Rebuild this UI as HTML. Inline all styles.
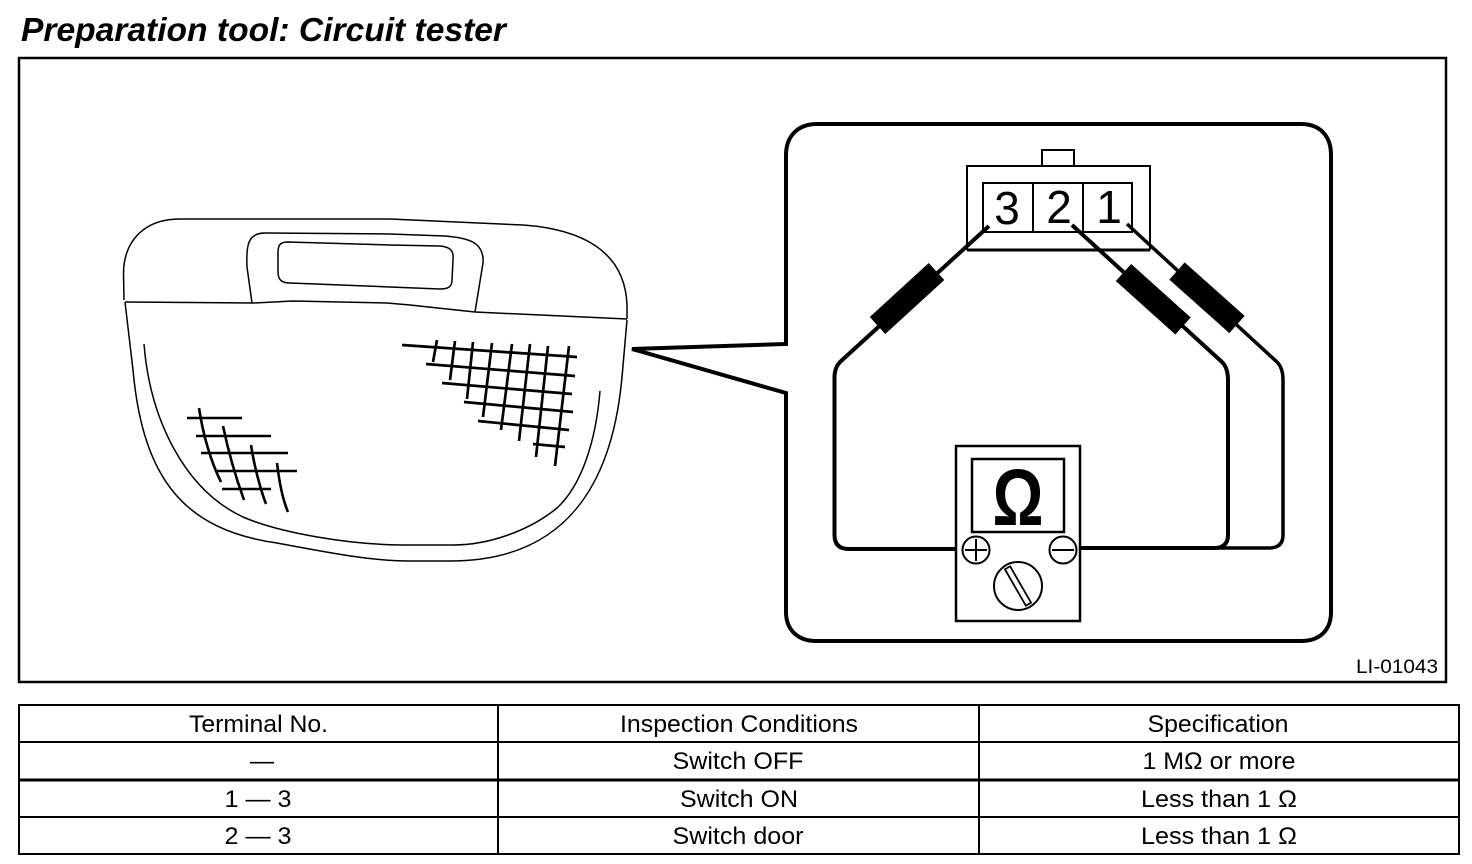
<!DOCTYPE html>
<html>
<head>
<meta charset="utf-8">
<style>
html,body{margin:0;padding:0;background:#fff;width:1472px;height:864px;overflow:hidden}
svg{display:block}
text{font-family:"Liberation Sans",sans-serif;fill:#000}
.t{font-size:24px;text-anchor:middle}
</style>
</head>
<body>
<svg width="1472" height="864" viewBox="0 0 1472 864" xmlns="http://www.w3.org/2000/svg">
<rect width="1472" height="864" fill="#fff"/>
<text x="21" y="41" font-size="33" font-weight="bold" font-style="italic" textLength="485" lengthAdjust="spacingAndGlyphs">Preparation tool: Circuit tester</text>
<rect x="19" y="58" width="1427" height="624" fill="none" stroke="#000" stroke-width="2.5"/>

<!-- housing -->
<g fill="none" stroke="#000" stroke-width="1.5" stroke-linejoin="round">
<path d="M124 300L123.500 273C124 240 145 219 180 219L390 219L523 225C580 229 625 250 627 305L627 319"/>
<path d="M125 302L253 303L293 301L387 303L410 305L475 312L627 319"/>
<path d="M125 302L133 370C143 480 185 530 277 543C320 551 370 561 408 561L450 561C545 561 610 510 622 377L627 320"/>
<path d="M144 344C150 420 185 490 243 517C280 533 350 545 405 545L453 545C490 545 530 530 557 508C582 485 596 440 600 391"/>
<path d="M252 303L247 267C246 245 248 233 265 233L390 234L445 236Q470 238 477 245Q484 252 483 263L475 312"/>
<path d="M278 253C278 245 280 242 288 242L390 245L440 246C450 247 454 250 453 260L452 280C452 287 448 289 440 289L390 287L290 283C282 283 278 280 278 272Z"/>
</g>

<!-- left grid -->
<g fill="none" stroke="#000" stroke-width="2.6">
<path d="M187 418H242M196 436H271M201 453H288M215 471H297M222 489H271"/>
<path d="M199 408C203 435 211 462 221 482M223 426C228 450 236 478 244 500M251 445C254 465 260 488 266 504M277 463C279 480 282 498 288 512"/>
</g>
<!-- right grid -->
<g fill="none" stroke="#000" stroke-width="2.7">
<path d="M402 345L577 357M426 364L575 376M442 383L572 394M464 402L573 412M478 421L569 430M533 444L565 447"/>
<path d="M437 340L433 362M455 341L450 380M473 342L467 399M492 343L483 417M512 344L501 430M530 344L519 441M548 346L536 457M569 346L555 466"/>
</g>

<!-- callout -->
<path d="M786 344V155C786 136 798 124 817 124H1301C1320 124 1331 136 1331 155V612C1331 630 1320 641 1301 641H816C798 641 786 630 786 612V393L632 349Z" fill="#fff" stroke="#000" stroke-width="4" stroke-linejoin="miter"/>

<!-- connector -->
<g fill="none" stroke="#000" stroke-width="2">
<path d="M1042 166V150H1074V166"/>
<path d="M967 250V166H1150V250"/>
<path d="M967 250H1150" stroke-width="3"/>
<rect x="983" y="183" width="149" height="49"/>
<path d="M1033 183V233M1083 183V232"/>
</g>
<text x="1007" y="224" font-size="46" text-anchor="middle">3</text>
<text x="1059" y="223" font-size="46" text-anchor="middle">2</text>
<text x="1109" y="223" font-size="46" text-anchor="middle">1</text>

<!-- wires -->
<g fill="none" stroke="#000" stroke-linejoin="round">
<path d="M989 226L840 362Q834.500 368 834.500 377V535Q834.500 549 849 549H962" stroke-width="4"/>
<path d="M1072 225L1222 362Q1228 368 1228 380V535Q1228 548 1214 548H1080" stroke-width="4"/>
<path d="M1127 224L1277 362Q1283 368 1283 380V535Q1283 548 1269 548H1214" stroke-width="3.500"/>
</g>
<g fill="none" stroke="#000" stroke-width="23">
<path d="M936.500 271.500L877.500 325.500"/>
<path d="M1123.500 272.500L1183 326"/>
<path d="M1177 271L1237 324.500"/>
</g>

<!-- meter -->
<rect x="956" y="446" width="124" height="175" fill="#fff" stroke="#000" stroke-width="2.5"/>
<rect x="972" y="459" width="92" height="73" fill="#fff" stroke="#000" stroke-width="2.5"/>
<text x="1018" y="525" font-size="80" font-weight="bold" text-anchor="middle" textLength="51" lengthAdjust="spacingAndGlyphs">Ω</text>
<circle cx="976" cy="550" r="13.500" fill="#fff" stroke="#000" stroke-width="2"/>
<path d="M965 550H987M976 539V561" stroke="#000" stroke-width="2"/>
<circle cx="1063" cy="550" r="13.500" fill="#fff" stroke="#000" stroke-width="2"/>
<path d="M1052 550H1074" stroke="#000" stroke-width="2"/>
<circle cx="1018" cy="586" r="24" fill="#fff" stroke="#000" stroke-width="2"/>
<rect x="1015" y="565" width="6" height="42" fill="#fff" stroke="#000" stroke-width="1.800" transform="rotate(-30 1018 586)"/>

<text x="1356" y="673" font-size="19" textLength="82" lengthAdjust="spacingAndGlyphs">LI-01043</text>

<!-- table -->
<g fill="none" stroke="#000">
<rect x="19" y="705" width="1440" height="149" stroke-width="2"/>
<path d="M19 742H1459M19 817H1459M498 705V854M979 705V854" stroke-width="2"/>
<path d="M19 780H1459" stroke-width="3"/>
</g>
<text class="t" x="258.500" y="732" textLength="139" lengthAdjust="spacingAndGlyphs">Terminal No.</text>
<text class="t" x="739" y="732" textLength="238" lengthAdjust="spacingAndGlyphs">Inspection Conditions</text>
<text class="t" x="1218" y="732" textLength="141" lengthAdjust="spacingAndGlyphs">Specification</text>
<text class="t" x="262" y="769">—</text>
<text class="t" x="738" y="769" textLength="131" lengthAdjust="spacingAndGlyphs">Switch OFF</text>
<text class="t" x="1219" y="769" textLength="153" lengthAdjust="spacingAndGlyphs">1 MΩ or more</text>
<text class="t" x="258" y="807" textLength="67" lengthAdjust="spacingAndGlyphs">1 — 3</text>
<text class="t" x="739" y="807" textLength="118" lengthAdjust="spacingAndGlyphs">Switch ON</text>
<text class="t" x="1219" y="807" textLength="156" lengthAdjust="spacingAndGlyphs">Less than 1 Ω</text>
<text class="t" x="258" y="844" textLength="67" lengthAdjust="spacingAndGlyphs">2 — 3</text>
<text class="t" x="738" y="844" textLength="131" lengthAdjust="spacingAndGlyphs">Switch door</text>
<text class="t" x="1219" y="844" textLength="156" lengthAdjust="spacingAndGlyphs">Less than 1 Ω</text>
</svg>
</body>
</html>
